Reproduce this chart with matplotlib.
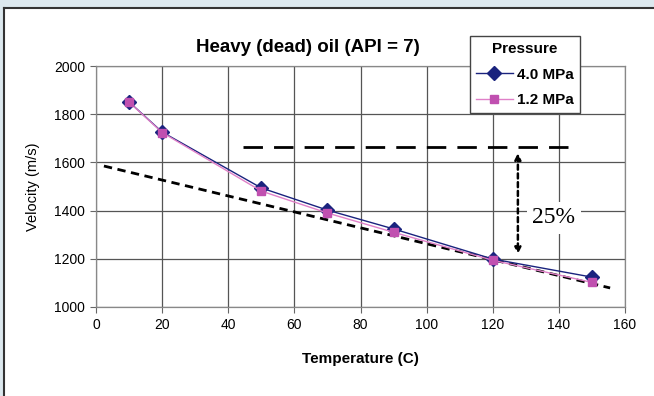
import matplotlib.pyplot as plt
from matplotlib.patches import Rectangle

plt.rcParams["font.family"] = ["Liberation Sans", "DejaVu Sans"]

# ---- data ----
temperature = [10, 20, 50, 70, 90, 120, 150]
vel_4mpa = [1851, 1726, 1494, 1402, 1324, 1199, 1124]
vel_12mpa = [1850, 1724, 1481, 1390, 1310, 1194, 1102]

trend_x = [2.4, 155.5]
trend_y = [1585, 1079]

ref_x = [44.5, 144]
ref_y = [1664, 1664]

arrow_x = 127.6
arrow_top = 1650
arrow_bottom = 1208

x_ticks = [0, 20, 40, 60, 80, 100, 120, 140, 160]
y_ticks = [1000, 1200, 1400, 1600, 1800, 2000]

fig = plt.figure(figsize=(6.54, 3.96), dpi=100)
fig.patch.set_facecolor("#dce8ee")
# white card with a dark left/top edge
card = Rectangle((4 / 654, 0), 1, 1 - 8 / 396, transform=fig.transFigure,
                 facecolor="white", edgecolor="none", zorder=0)
fig.add_artist(card)
fig.add_artist(plt.Line2D([4 / 654, 4 / 654], [0, 1 - 8 / 396], color="#333333",
                          lw=1.5, transform=fig.transFigure, zorder=0.5))
fig.add_artist(plt.Line2D([4 / 654, 1], [1 - 8 / 396, 1 - 8 / 396], color="#333333",
                          lw=1.5, transform=fig.transFigure, zorder=0.5))

ax = fig.add_axes([96 / 654, 1 - 307 / 396, 529 / 654, 241 / 396])
ax.set_zorder(2)
ax.set_facecolor("white")
ax.set_xlim(0, 160)
ax.set_ylim(1000, 2000)
ax.set_xticks(x_ticks)
ax.set_yticks(y_ticks)
ax.grid(True, color="#555555", lw=0.9)
ax.set_axisbelow(True)
for s in ax.spines.values():
    s.set_color("#888888")
    s.set_linewidth(0.9)
ax.tick_params(direction="out", length=4, width=0.8, color="#666666",
               labelsize=10, pad=4)

ax.plot(trend_x, trend_y, ls=(0, (3, 2)), color="black", lw=2, zorder=3)
ax.plot(ref_x, ref_y, ls=(0, (7, 4)), color="black", lw=2, zorder=3)
ax.annotate("", xy=(arrow_x, arrow_bottom), xytext=(arrow_x, arrow_top),
            arrowprops=dict(arrowstyle="<|-|>", ls=(0, (2, 1.5)), lw=1.8,
                            color="black", mutation_scale=9), zorder=3)
ax.text(138.5, 1370, "25%", family="Liberation Serif", fontsize=17,
        ha="center", va="center", zorder=4,
        bbox=dict(facecolor="white", edgecolor="none", pad=4))

ax.plot(temperature, vel_4mpa, color="#1a237e", lw=1, marker="D", ms=7,
        mfc="#1a237e", mec="#1a237e", label="4.0 MPa", zorder=4)
ax.plot(temperature, vel_12mpa, color="#e080c8", lw=1, marker="s", ms=6,
        mfc="#c050b0", mec="#c050b0", label="1.2 MPa", zorder=5)

ax.set_xlabel("Temperature (C)", fontsize=11, fontweight="bold", labelpad=14)
ax.set_ylabel("Velocity (m/s)", fontsize=10.5, labelpad=10)
ax.set_title("Heavy (dead) oil (API = 7)", fontsize=13.5, fontweight="bold",
             pad=10, x=0.40)

leg = ax.legend(title="Pressure",
                loc="upper left", bbox_to_anchor=(374 / 529, 1 + 30 / 241),
                fontsize=11, title_fontproperties=dict(weight="bold", size=11),
                frameon=True, fancybox=False, edgecolor="#444444",
                framealpha=1, handlelength=2.4, borderpad=0.4,
                labelspacing=0.75, handletextpad=0.3, borderaxespad=0)
leg.get_frame().set_linewidth(1.0)
for t in leg.get_texts():
    t.set_fontweight("bold")

fig.savefig("out.png", dpi=100, facecolor=fig.get_facecolor())
